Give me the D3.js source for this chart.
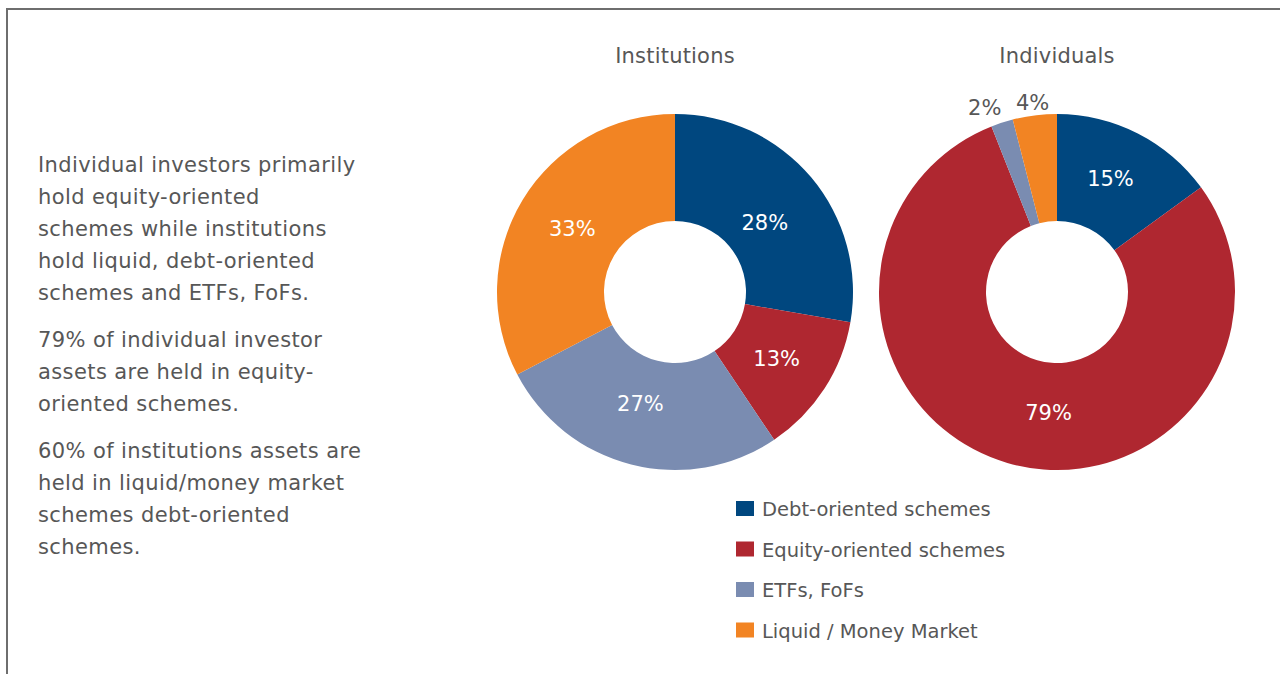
<!DOCTYPE html>
<html>
<head>
<meta charset="utf-8">
<script src="https://cdn.jsdelivr.net/npm/d3@7"></script>
<style>
  html, body { margin: 0; padding: 0; background: #fff; }
  svg { display: block; }
</style>
</head>
<body>
<svg id="chart" width="1280" height="674"></svg>
<script>
// Asset mix by investor type (percent of assets)
const categories = ["Debt-oriented schemes", "Equity-oriented schemes", "ETFs, FoFs", "Liquid / Money Market"];
const institutionsValues = [28, 13, 27, 33];
const individualsValues = [15, 79, 2, 4];
const chartTitles = ["Institutions", "Individuals"];
const colors = ["#00477f", "#af2730", "#7a8cb1", "#f28423"];

const paragraphs = [
  ["Individual investors primarily", "hold equity-oriented", "schemes while institutions", "hold liquid, debt-oriented", "schemes and ETFs, FoFs."],
  ["79% of individual investor", "assets are held in equity-", "oriented schemes."],
  ["60% of institutions assets are", "held in liquid/money market", "schemes debt-oriented", "schemes."]
];

const FONT = "'DejaVu Sans', sans-serif";
const TEXT = "#575757";

const svg = d3.select("#chart");

// frame
svg.append("path")
  .attr("d", "M7,674 V9 H1280")
  .attr("fill", "none")
  .attr("stroke", "#6e6e6e")
  .attr("stroke-width", 2);

// commentary text
let y = 172;
paragraphs.forEach(lines => {
  const t = svg.append("text")
    .attr("x", 38)
    .attr("font-family", FONT)
    .attr("font-size", 21)
    .attr("letter-spacing", 0.4)
    .attr("fill", TEXT);
  lines.forEach(line => {
    t.append("tspan").attr("x", 38).attr("y", y).text(line);
    y += 32;
  });
  y += 15;
});

const color = d3.scaleOrdinal().domain(categories).range(colors);
const pie = d3.pie().sort(null).value(d => d.value);
const outerR = 178, innerR = 71;
const arc = d3.arc().innerRadius(innerR).outerRadius(outerR);
const labelArc = d3.arc().innerRadius(120).outerRadius(120);
const outsideArc = d3.arc().innerRadius(195).outerRadius(195);

// small hand adjustments to label placement, per slice
const labelNudges = {
  Institutions: [[-2, 8], [1, 1], [-5, -5], [0, -1]],
  Individuals: [[-1, -7], [25, 5], [-12, 1], [0, 4]]
};

function donut(cx, cy, title, values) {
  const data = categories.map((c, i) => ({ category: c, value: values[i] }));
  const g = svg.append("g").attr("transform", `translate(${cx},${cy})`);
  const nudges = labelNudges[title];

  svg.append("text")
    .attr("x", cx).attr("y", 63)
    .attr("text-anchor", "middle")
    .attr("font-family", FONT)
    .attr("font-size", 21)
    .attr("letter-spacing", 0.2)
    .attr("fill", TEXT)
    .text(title);

  const arcs = pie(data);
  g.selectAll("path.slice")
    .data(arcs)
    .join("path")
    .attr("class", "slice")
    .attr("d", arc)
    .attr("fill", d => color(d.data.category));

  g.selectAll("text.pct")
    .data(arcs)
    .join("text")
    .attr("class", "pct")
    .attr("transform", (d, i) => {
      const p = d.data.value < 5 ? outsideArc.centroid(d) : labelArc.centroid(d);
      return `translate(${p[0] + nudges[i][0]},${p[1] + nudges[i][1]})`;
    })
    .attr("dy", "0.36em")
    .attr("text-anchor", "middle")
    .attr("font-family", FONT)
    .attr("font-size", 21)
    .attr("fill", d => d.data.value < 5 ? TEXT : "#ffffff")
    .text(d => d.data.value + "%");
}

donut(675, 292, chartTitles[0], institutionsValues);
donut(1057, 292, chartTitles[1], individualsValues);

// legend
const legend = svg.append("g").attr("transform", "translate(736,501)");
const rows = legend.selectAll("g")
  .data(categories)
  .join("g")
  .attr("transform", (d, i) => `translate(0,${i * 40.5})`);
rows.append("rect")
  .attr("width", 18).attr("height", 15)
  .attr("fill", d => color(d));
rows.append("text")
  .attr("x", 26).attr("y", 15)
  .attr("font-family", FONT)
  .attr("font-size", 19.5)
  .attr("fill", TEXT)
  .text(d => d);
</script>
</body>
</html>
